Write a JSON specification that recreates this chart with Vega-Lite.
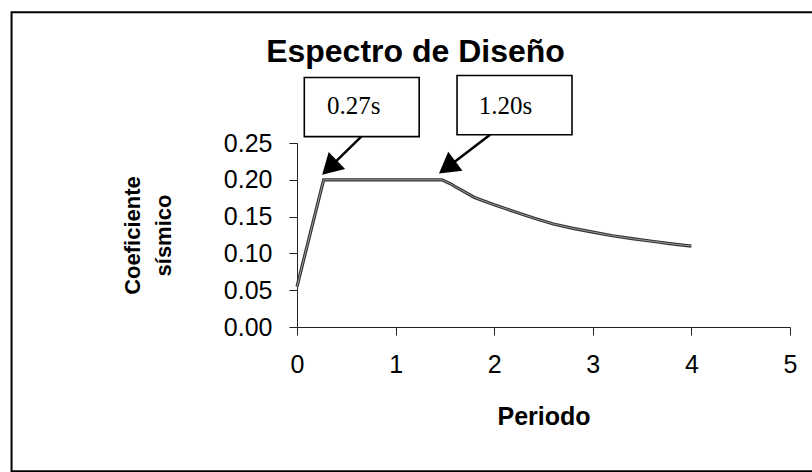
{
  "$schema": "https://vega.github.io/schema/vega-lite/v6.json",
  "autosize": {"type": "none"},
  "padding": {"left": 297, "top": 143, "right": 22, "bottom": 145},
  "width": 493,
  "height": 184,
  "background": "white",
  "title": {"text": "Espectro de Diseño", "font": "Liberation Sans", "fontSize": 32, "fontWeight": "bold", "color": "#000", "anchor": "middle", "frame": "group", "dx": -128, "dy": 58, "offset": 0},
  "config": {
    "view": {"stroke": null},
    "axis": {"domainColor": "#222", "tickColor": "#222", "labelFont": "Liberation Sans", "labelFontSize": 25, "labelColor": "#000", "grid": false, "tickSize": 8, "titleFont": "Liberation Sans", "titleFontWeight": "bold", "titleColor": "#000", "labelOverlap": false, "labelFlush": false}
  },
  "datasets": {
    "espectro": [
      {"periodo": 0.0, "coef": 0.055},
      {"periodo": 0.27, "coef": 0.200},
      {"periodo": 1.47, "coef": 0.200},
      {"periodo": 1.55, "coef": 0.195},
      {"periodo": 1.6, "coef": 0.191},
      {"periodo": 1.8, "coef": 0.176},
      {"periodo": 2.0, "coef": 0.166},
      {"periodo": 2.2, "coef": 0.157},
      {"periodo": 2.4, "coef": 0.148},
      {"periodo": 2.6, "coef": 0.140},
      {"periodo": 2.8, "coef": 0.134},
      {"periodo": 3.0, "coef": 0.129},
      {"periodo": 3.2, "coef": 0.124},
      {"periodo": 3.4, "coef": 0.120},
      {"periodo": 3.6, "coef": 0.1165},
      {"periodo": 3.8, "coef": 0.113},
      {"periodo": 4.0, "coef": 0.110}
    ],
    "cajas": [
      {"x": 0.074, "x2": 1.239, "y": 0.2586, "y2": 0.339, "etiqueta": "0.27s", "tx": 0.576, "ty": 0.300},
      {"x": 1.623, "x2": 2.789, "y": 0.2613, "y2": 0.3417, "etiqueta": "1.20s", "tx": 2.115, "ty": 0.300}
    ],
    "flechas": [
      {"x": 0.652, "y": 0.2586, "x2": 0.33, "y2": 0.2165, "angulo": 226},
      {"x": 1.958, "y": 0.2613, "x2": 1.523, "y2": 0.2168, "angulo": 233}
    ],
    "marco": [
      {"x": -2.895, "x2": 5.6, "y": -0.196, "y2": 0.4275}
    ]
  },
  "layer": [
    {
      "data": {"name": "espectro"},
      "mark": {"type": "line", "stroke": "#333", "strokeWidth": 3.2},
      "encoding": {
        "x": {"field": "periodo", "type": "quantitative", "scale": {"domain": [0, 5], "nice": false, "zero": false},
          "axis": {"values": [0, 1, 2, 3, 4, 5], "tickCount": 10, "format": "d", "labelPadding": 17, "title": "Periodo", "titleFontSize": 25, "titlePadding": 27}},
        "y": {"field": "coef", "type": "quantitative", "scale": {"domain": [0, 0.25], "nice": false, "zero": false},
          "axis": {"values": [0, 0.05, 0.1, 0.15, 0.2, 0.25], "tickCount": 10, "format": ".2f", "labelPadding": 17, "title": ["Coeficiente", "sísmico"], "titleFontSize": 22, "titleLineHeight": 31, "titlePadding": 48}}
      }
    },
    {
      "data": {"name": "marco"},
      "mark": {"type": "rect", "fill": null, "stroke": "#000", "strokeWidth": 2, "clip": false},
      "encoding": {
        "x": {"field": "x", "type": "quantitative"},
        "x2": {"field": "x2"},
        "y": {"field": "y", "type": "quantitative"},
        "y2": {"field": "y2"}
      }
    },
    {
      "data": {"name": "espectro"},
      "mark": {"type": "line", "stroke": "#9a9a9a", "strokeWidth": 1},
      "encoding": {
        "x": {"field": "periodo", "type": "quantitative"},
        "y": {"field": "coef", "type": "quantitative"}
      }
    },
    {
      "data": {"name": "flechas"},
      "mark": {"type": "rule", "stroke": "#000", "strokeWidth": 2.5, "clip": false},
      "encoding": {
        "x": {"field": "x", "type": "quantitative"},
        "x2": {"field": "x2"},
        "y": {"field": "y", "type": "quantitative"},
        "y2": {"field": "y2"}
      }
    },
    {
      "data": {"name": "flechas"},
      "mark": {"type": "point", "shape": "triangle-up", "filled": true, "color": "#000", "size": 560, "opacity": 1, "clip": false},
      "encoding": {
        "x": {"field": "x2", "type": "quantitative"},
        "y": {"field": "y2", "type": "quantitative"},
        "angle": {"field": "angulo", "type": "quantitative", "scale": null}
      }
    },
    {
      "data": {"name": "cajas"},
      "mark": {"type": "rect", "fill": "#fff", "stroke": "#000", "strokeWidth": 1.6, "clip": false},
      "encoding": {
        "x": {"field": "x", "type": "quantitative"},
        "x2": {"field": "x2"},
        "y": {"field": "y", "type": "quantitative"},
        "y2": {"field": "y2"}
      }
    },
    {
      "data": {"name": "cajas"},
      "mark": {"type": "text", "font": "Liberation Serif", "fontSize": 25, "color": "#000", "align": "center", "baseline": "middle", "clip": false},
      "encoding": {
        "x": {"field": "tx", "type": "quantitative"},
        "y": {"field": "ty", "type": "quantitative"},
        "text": {"field": "etiqueta"}
      }
    }
  ]
}
